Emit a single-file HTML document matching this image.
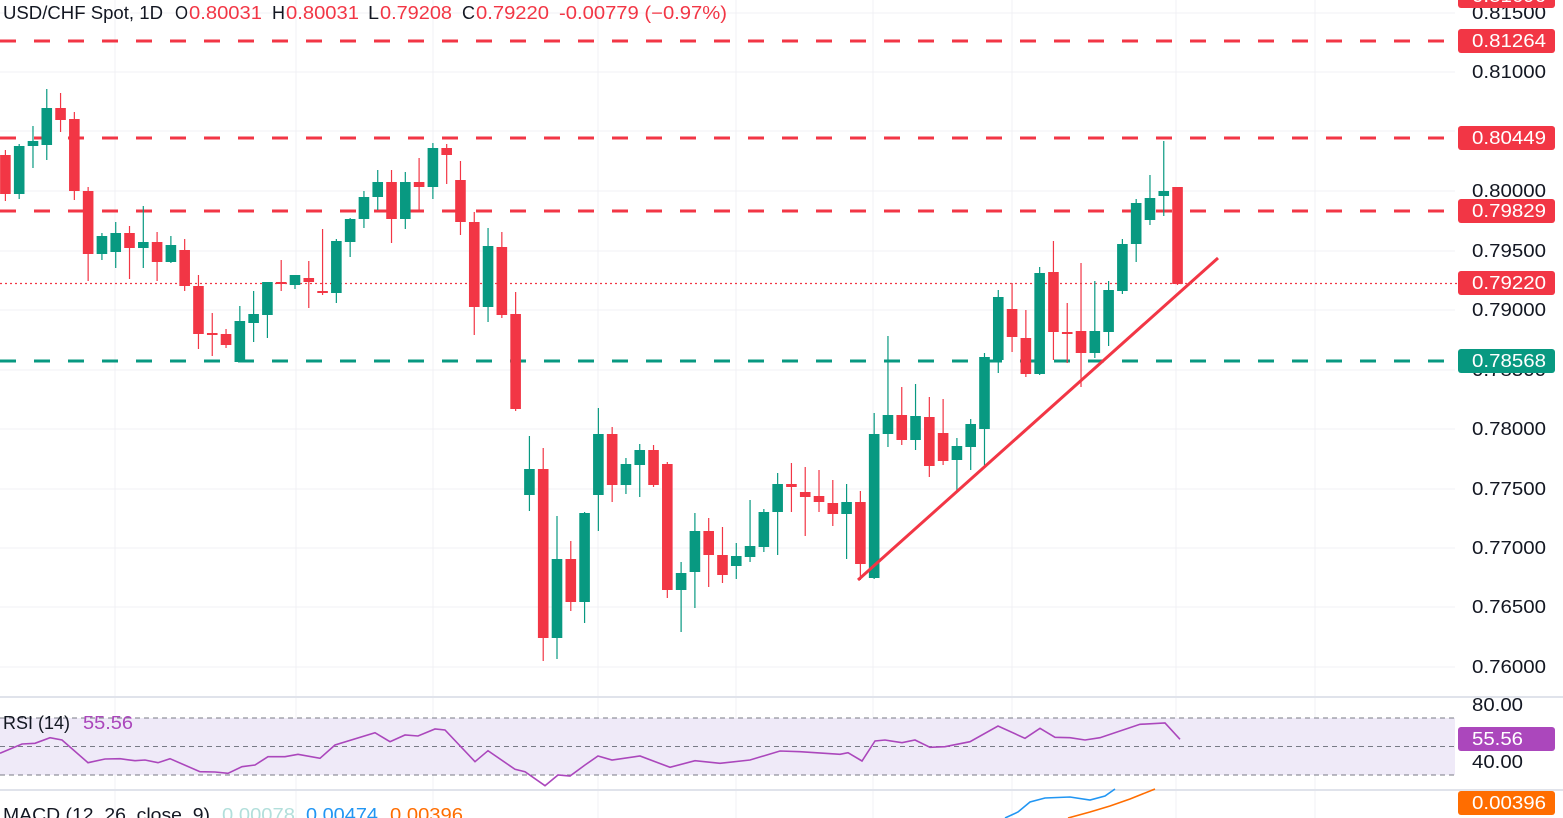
<!DOCTYPE html>
<html><head><meta charset="utf-8"><style>
html,body{margin:0;padding:0;background:#fff;}
svg{display:block;font-family:"Liberation Sans",sans-serif;}
</style></head><body>
<svg id="s" width="1563" height="818" viewBox="0 0 1563 818" xmlns="http://www.w3.org/2000/svg">
<rect width="1563" height="818" fill="#fff"/>
<g id="grid" stroke="#f0f1f4" stroke-width="1"></g>
<rect x="0" y="718" width="1455" height="57" fill="#efeaf8"/>
<g stroke="#787b86" stroke-width="1" stroke-dasharray="5,4">
<line x1="0" y1="718" x2="1455" y2="718"/><line x1="0" y1="746.5" x2="1455" y2="746.5"/><line x1="0" y1="775" x2="1455" y2="775"/>
</g>
<line x1="0" y1="697" x2="1563" y2="697" stroke="#e0e3eb" stroke-width="2"/>
<line x1="0" y1="790" x2="1563" y2="790" stroke="#e0e3eb" stroke-width="2"/>
<g id="lev"></g>
<g id="c"></g>
<line x1="858" y1="580" x2="1218" y2="258" stroke="#f23645" stroke-width="3"/>
<polyline id="rsi" fill="none" stroke="#ab47bc" stroke-width="1.6"/>
<polyline points="1005,818 1018,812 1030,802 1045,798 1070,797 1090,800 1105,796 1115,789" fill="none" stroke="#2196f3" stroke-width="1.6"/>
<polyline points="1068,818 1090,812 1110,806 1130,799 1155,789" fill="none" stroke="#ff6d00" stroke-width="1.6"/>
<g id="ax" font-size="18" fill="#131722"></g>
<g id="lb" font-size="18"></g>
<g id="tx" font-size="18"></g>
</svg>
<script>
var NS="http://www.w3.org/2000/svg";
function el(p,t,a,txt){var e=document.createElementNS(NS,t);for(var k in a)e.setAttribute(k,a[k]);if(txt)e.textContent=txt;document.getElementById(p).appendChild(e);return e;}
function T(p,s,x,y,w,col){el(p,"text",{x:x,y:y,textLength:w,lengthAdjust:"spacingAndGlyphs",fill:col||"#131722"},s);}
// grid
[115,296,433,598,736,873,1012,1176,1315].forEach(function(x){el("grid","line",{x1:x,y1:0,x2:x,y2:818});});
[13,72,131,191,251,310,370,429,489,548,607,667].forEach(function(y){el("grid","line",{x1:0,y1:y,x2:1455,y2:y});});
el("grid","line",{x1:0,y1:762,x2:1455,y2:762});
// axis
[["0.81500",13],["0.81000",72],["0.80000",191],["0.79500",251],["0.79000",310],["0.78500",370],["0.78000",429],["0.77500",489],["0.77000",548],["0.76500",607],["0.76000",667]].forEach(function(a){T("ax",a[0],1472,a[1]+6,74);});
T("ax","80.00",1472,711,51);T("ax","40.00",1472,768,51);
// levels
[[41,"#f23645"],[138,"#f23645"],[211,"#f23645"],[361,"#089981"]].forEach(function(a){el("lev","line",{x1:0,y1:a[0],x2:1458,y2:a[0],stroke:a[1],"stroke-width":3,"stroke-dasharray":"16,18"});});
el("lev","line",{x1:0,y1:283.5,x2:1458,y2:283.5,stroke:"#f23645","stroke-width":1.2,"stroke-dasharray":"2,3"});
// labels
[["0.81696",-4,"#f23645"],["0.81264",41,"#f23645"],["0.80449",138,"#f23645"],["0.79829",211,"#f23645"],["0.79220",283,"#f23645"],["0.78568",361,"#089981"],["55.56",739,"#ab47bc"],["0.00396",803,"#ff6d00"]].forEach(function(a){
el("lb","rect",{x:1458,y:a[1]-12,width:97,height:24,rx:3,fill:a[2]});
T("lb",a[0],1472,a[1]+6,a[0].length==5?51:74,"#fff");});
// header
var R="#f23645";
T("tx","USD/CHF Spot, 1D",3,19,160);
T("tx","O",175,19,13);T("tx","0.80031",189,19,73,R);
T("tx","H",272,19,13);T("tx","0.80031",286,19,73,R);
T("tx","L",368,19,11);T("tx","0.79208",380,19,72,R);
T("tx","C",462,19,13);T("tx","0.79220",476,19,73,R);
T("tx","-0.00779 (−0.97%)",559,19,168,R);
T("tx","RSI (14)",3,729,67);T("tx","55.56",83,729,50,"#ab47bc");
T("tx","MACD (12, 26, close, 9)",3,821,207);
T("tx","0.00078",222,821,73,"#b2dfdb");T("tx","0.00474",306,821,72,"#2196f3");T("tx","0.00396",390,821,73,"#ff6d00");
// candles o,c,h,l (y pixels)
var d=[[155,194,150,201],[194,146,144,199],[146,141,126,168],[145,108,89,160],[108,120,93,132],[119,191,112,200],[191,254,187,281],[254,236,233,260],[252,233,222,268],[233,248,226,279],[248,242,206,268],[242,262,232,281],[262,245,236,263],[250,286,239,291],[286,334,275,349],[333,335,313,356],[334,345,329,348],[362,321,306,362],[323,314,291,342],[315,282,282,338],[282,284,260,291],[285,275,275,289],[278,282,261,308],[291,293,229,295],[293,241,239,303],[242,219,218,257],[219,197,191,228],[197,182,170,210],[182,219,170,243],[219,182,172,229],[182,187,158,211],[187,148,143,199],[148,155,144,184],[180,222,161,235],[222,307,212,335],[307,246,228,322],[247,315,232,318],[314,409,292,411],
[495,469,436,511],[469,638,448,661],[638,559,516,659],[559,602,541,611],[602,513,512,623],[495,434,408,531],[434,485,427,502],[485,464,458,494],[465,450,444,497],[450,485,445,487],[464,590,462,598],[590,573,562,632],[572,531,513,608],[531,555,518,587],[555,575,527,583],[566,556,543,579],[557,546,500,562],[547,512,509,552],[512,484,473,555],[484,487,463,512],[492,497,467,536],[496,502,470,512],[503,514,480,526],[514,502,484,559],[502,564,491,580],[578,434,413,579],
[434,415,336,447],[415,440,387,445],[440,416,384,450],[417,466,397,477],[433,461,399,465],[460,446,438,491],[447,424,419,470],[429,357,353,467],[360,297,290,373],[309,337,283,352],[338,374,310,377],[374,273,267,375],[272,332,241,360],[332,334,303,363],[331,353,263,387],[353,331,281,358],[332,290,281,346],[291,244,239,294],[244,203,199,262],[220,198,175,225],[196,191,141,216],[187,284,187,285]];
d.forEach(function(c,i){var x=5.4+i*13.79;var up=c[1]<c[0];var col=up?"#089981":"#f23645";
el("c","line",{x1:x,y1:c[2],x2:x,y2:c[3],stroke:col,"stroke-width":1.2});
var t=Math.min(c[0],c[1]),b=Math.max(c[0],c[1]);if(b-t<2){t-=1;b+=1;}
el("c","rect",{x:x-5.3,y:t,width:10.6,height:b-t,fill:col});});
// rsi
var r=[[0,190],[22,162],[35,160],[50,143],[62,150],[88,218],[105,207],[120,206],[135,212],[145,210],[158,218],[170,206],[200,245],[215,246],[228,250],[242,230],[255,225],[268,200],[285,200],[298,193],[320,205],[335,165],[375,128],[390,155],[405,135],[418,138],[435,117],[445,120],[475,215],[488,182],[515,238],[525,245],[545,287],[558,255],[570,258],[585,225],[598,198],[612,210],[640,198],[670,232],[695,212],[720,220],[750,210],[780,183],[800,185],[840,193],[848,188],[862,213],[875,153],[885,150],[902,158],[915,150],[930,172],[945,170],[970,155],[998,108],[1025,145],[1040,115],[1055,142],[1070,143],[1085,150],[1100,143],[1140,103],[1165,99],[1180,148]];
document.getElementById("rsi").setAttribute("points",r.map(function(p){return p[0]+","+(690+p[1]/3).toFixed(1);}).join(" "));
</script>
</body></html>
